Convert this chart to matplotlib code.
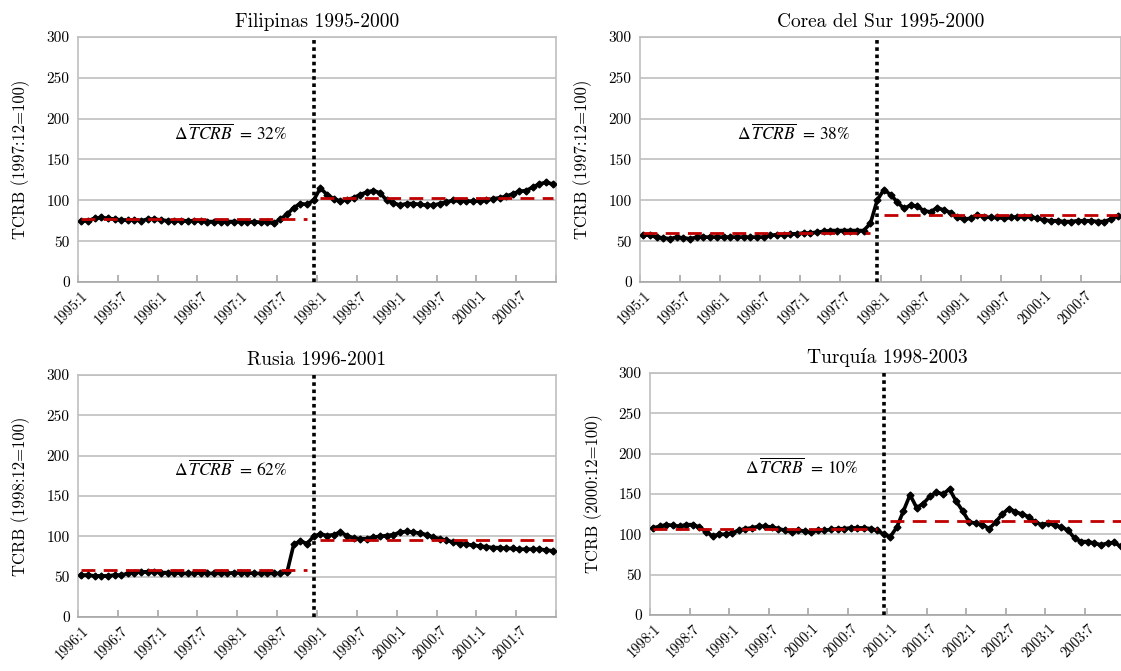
import matplotlib
matplotlib.use('Agg')
import matplotlib.pyplot as plt

plt.rcParams['font.family'] = ['cmr10', 'DejaVu Serif']
plt.rcParams['axes.formatter.use_mathtext'] = True

# TCRB mensual, 72 obs por pais (indice base = 100 en el mes de la crisis)
filipinas = [75, 75, 78, 79, 78, 77, 76, 76, 76, 75, 77, 77,
             76, 75, 75, 75, 75, 75, 75, 74, 74, 74, 74, 74,
             74, 73, 74, 73, 73, 72, 77, 83, 91, 96, 95, 100,
             115, 107, 102, 99, 101, 103, 107, 110, 112, 109, 100, 97,
             94, 96, 96, 95, 94, 94, 96, 98, 100, 99, 99, 99,
             99, 100, 102, 103, 105, 108, 111, 112, 116, 120, 122, 120]
corea = [58, 57, 55, 54, 53, 55, 54, 53, 55, 55, 55, 55,
         55, 55, 55, 55, 55, 55, 55, 57, 58, 58, 59, 59,
         60, 60, 61, 62, 63, 63, 63, 63, 63, 63, 72, 100,
         113, 107, 98, 90, 94, 93, 87, 86, 91, 88, 85, 79,
         77, 78, 82, 80, 79, 79, 78, 79, 80, 80, 80, 78,
         76, 75, 75, 74, 74, 75, 75, 75, 74, 74, 77, 81]
rusia = [52, 52, 51, 51, 51, 52, 52, 54, 55, 56, 56, 56,
         55, 55, 55, 54, 54, 54, 55, 54, 54, 54, 54, 55,
         55, 55, 54, 54, 54, 54, 54, 56, 90, 94, 91, 100,
         103, 101, 102, 105, 101, 98, 97, 97, 99, 100, 101, 102,
         105, 106, 105, 104, 102, 99, 97, 95, 93, 91, 90, 89,
         88, 87, 86, 86, 85, 85, 84, 84, 84, 84, 83, 82]
turquia = [108, 110, 112, 111, 110, 112, 112, 109, 103, 98, 100, 100,
           102, 105, 107, 108, 110, 110, 109, 107, 105, 103, 105, 104,
           103, 105, 105, 106, 107, 107, 108, 108, 108, 107, 105, 100,
           97, 109, 129, 149, 133, 138, 147, 152, 150, 156, 141, 129,
           115, 114, 112, 107, 115, 125, 132, 128, 125, 122, 115, 112,
           114, 111, 109, 105, 95, 91, 91, 89, 87, 89, 90, 85]

# promedios antes / despues de la crisis (lineas rojas)
filipinas_media = [77, 103]
corea_media = [60, 82.5]
rusia_media = [58, 95]
turquia_media = [106.5, 117]

etiquetas_95 = ['1995:1', '1995:7', '1996:1', '1996:7', '1997:1', '1997:7',
                '1998:1', '1998:7', '1999:1', '1999:7', '2000:1', '2000:7']
etiquetas_96 = ['1996:1', '1996:7', '1997:1', '1997:7', '1998:1', '1998:7',
                '1999:1', '1999:7', '2000:1', '2000:7', '2001:1', '2001:7']
etiquetas_98 = ['1998:1', '1998:7', '1999:1', '1999:7', '2000:1', '2000:7',
                '2001:1', '2001:7', '2002:1', '2002:7', '2003:1', '2003:7']

crisis = 35  # posicion del mes base (12) en cada serie

W, H = 1121, 671
fig = plt.figure(figsize=(W / 100, H / 100), dpi=100)


def ejes(l, t, r, b):
    return fig.add_axes([l / W, 1 - b / H, (r - l) / W, (b - t) / H])


def panel(ax, serie, media, etiquetas, titulo, ylabel, delta):
    n = len(serie)
    x = range(n)
    ax.set_xlim(-0.5, n - 0.5)
    ax.set_ylim(0, 300)
    ax.set_yticks(range(0, 301, 50))
    ax.set_yticklabels([str(v) for v in range(0, 301, 50)], fontsize=11)
    ax.tick_params(axis='y', length=0, pad=6)
    ax.grid(axis='y', color='#BFBFBF', lw=1.2)
    ax.set_axisbelow(True)
    for s in ax.spines.values():
        s.set_color('#BFBFBF')
        s.set_linewidth(1.2)
    ax.spines['bottom'].set_color('#A6A6A6')

    # marcas entre categorias, etiquetas centradas en la categoria
    ax.set_xticks([k - 0.5 for k in range(0, n + 1, 6)])
    ax.set_xticklabels([])
    ax.tick_params(axis='x', which='major', direction='in', length=5,
                   color='#A6A6A6', width=1.2)
    ax.set_xticks(list(range(0, n, 6)), minor=True)
    ax.set_xticklabels(etiquetas, minor=True, rotation=45, ha='right',
                       rotation_mode='anchor', fontsize=10.5)
    ax.tick_params(axis='x', which='minor', length=0, pad=5)

    ax.plot(x, serie, color='black', lw=2.6, marker='D', ms=3.5, zorder=3)
    ax.plot([0, crisis - 1], [media[0]] * 2, color='#C00000', lw=2,
            dashes=(5, 3), zorder=4)
    ax.plot([crisis + 1, n - 1], [media[1]] * 2, color='#C00000', lw=2,
            dashes=(5, 3), zorder=4)
    ax.axvline(crisis, color='black', lw=2.6, ls=(0, (1, 1)), zorder=5)

    ax.text(22.5, 182, r'$\Delta\,\overline{TCRB}$  = ' + delta,
            fontsize=12.5, ha='center', va='center',
            family='STIXGeneral', math_fontfamily='stix')
    ax.set_title(titulo, fontsize=14, pad=7)
    ax.set_ylabel(ylabel, fontsize=12)
    ax.yaxis.set_label_coords(-0.10, 0.5)


panel(ejes(78, 37, 556, 282), filipinas, filipinas_media, etiquetas_95,
      'Filipinas 1995-2000', 'TCRB (1997:12=100)', '32%')
panel(ejes(640, 37, 1121, 282), corea, corea_media, etiquetas_95,
      'Corea del Sur 1995-2000', 'TCRB (1997:12=100)', '38%')
panel(ejes(78, 375, 556, 617), rusia, rusia_media, etiquetas_96,
      'Rusia 1996-2001', 'TCRB (1998:12=100)', '62%')
panel(ejes(650, 373, 1124, 615), turquia, turquia_media, etiquetas_98,
      'Turquía 1998-2003', 'TCRB (2000:12=100)', '10%')

fig.savefig('out.png', dpi=100)
